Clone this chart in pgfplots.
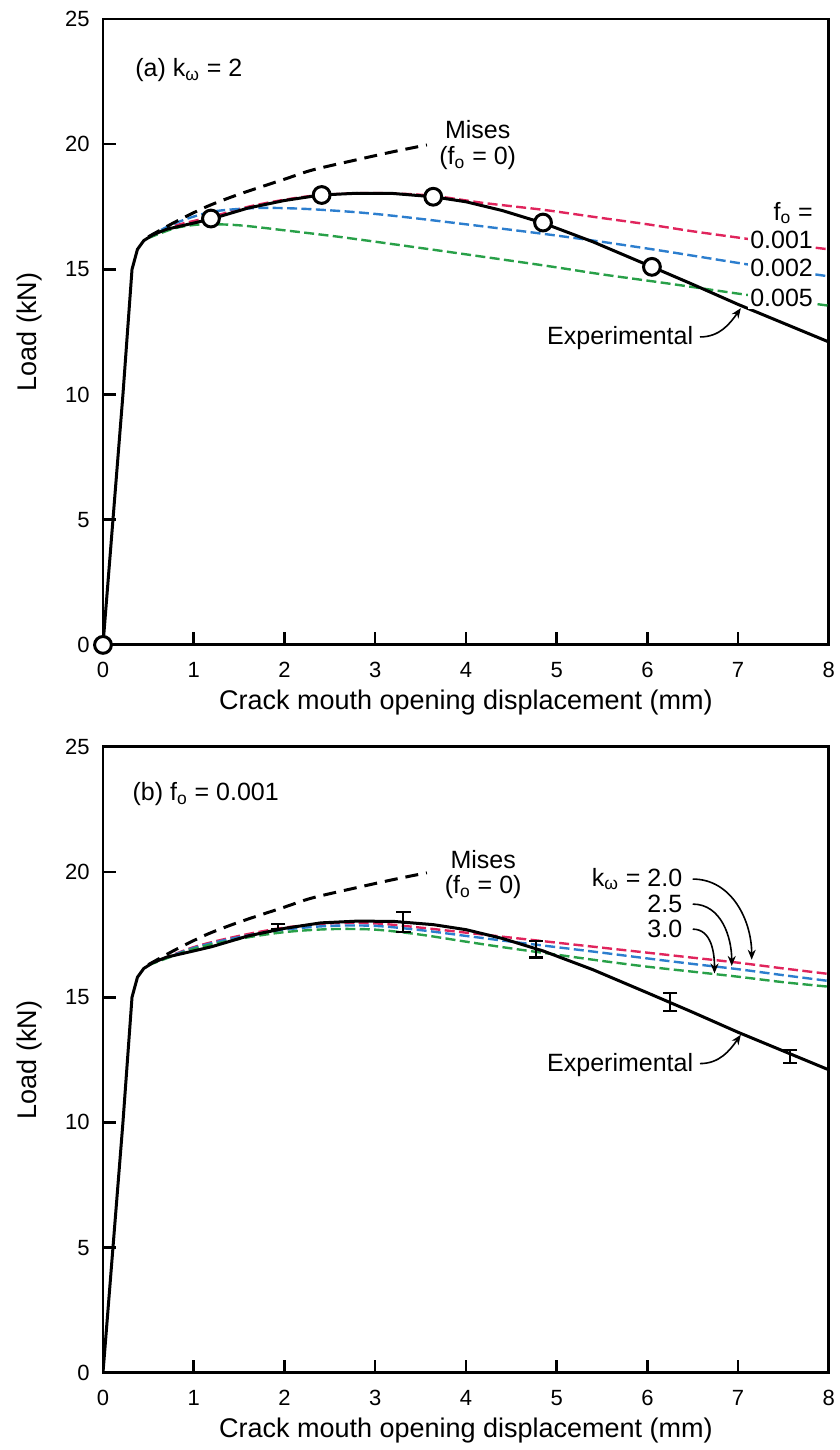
\documentclass[border=0pt]{standalone}
\usepackage{fontspec}
\setmainfont{Liberation Sans}
\usepackage{pgfplots}
\usepackage{pgfplotstable}
\pgfplotsset{compat=1.18}
\usetikzlibrary{arrows.meta}

\definecolor{cred}{RGB}{224,36,92}
\definecolor{cblue}{RGB}{44,126,206}
\definecolor{cgreen}{RGB}{40,160,72}

% experimental load - CMOD curve (same test in both panels)
\pgfplotstableread{
x y
0 0
0.11 5
0.22 10
0.32 15
0.38 15.8
0.45 16.15
0.55 16.38
0.7 16.6
1.0 16.85
1.2 17.02
1.6 17.45
2.0 17.75
2.4 17.97
2.8 18.04
3.2 18.03
3.64 17.9
4.0 17.7
4.4 17.35
4.85 16.85
5.4 16.1
6.05 15.1
6.5 14.4
7.0 13.6
7.5 12.85
8.0 12.1
}\exptab

\pgfplotstableread{
x y
0.5 16.3
0.8 16.9
1.14 17.5
1.5 18.0
2.0 18.6
2.31 18.97
2.8 19.38
3.2 19.7
3.57 19.97
}\misestab

% panel (a), k_w = 2
\pgfplotstableread{
x y
0.5 16.3
0.8 16.75
1.2 17.1
1.6 17.5
2.0 17.78
2.4 17.97
3.0 18.05
3.6 17.95
4.2 17.65
4.87 17.37
5.5 17.05
6.0 16.8
6.5 16.52
7.1 16.22
7.5 16.02
8.0 15.8
}\aone
\pgfplotstableread{
x y
0.5 16.3
0.8 16.85
1.2 17.3
1.7 17.45
2.2 17.42
2.8 17.28
3.3 17.1
4.0 16.8
4.85 16.42
5.5 16.1
6.2 15.72
7.1 15.2
8.0 14.72
}\atwo
\pgfplotstableread{
x y
0.5 16.25
0.8 16.65
1.1 16.8
1.5 16.76
2.0 16.56
2.6 16.3
3.27 15.97
4.0 15.6
4.87 15.15
5.5 14.8
6.2 14.45
7.1 13.98
8.0 13.55
}\afive

% panel (b), f_o = 0.001
\pgfplotstableread{
x y
0.5 16.3
1.0 17.0
1.5 17.45
2.0 17.78
2.5 17.95
3.0 17.95
3.5 17.78
4.0 17.58
4.5 17.38
5.0 17.18
5.5 16.98
6.0 16.78
6.5 16.58
7.0 16.38
7.5 16.15
8.0 15.93
}\btwo
\pgfplotstableread{
x y
0.5 16.3
1.0 16.97
1.5 17.4
2.0 17.7
2.5 17.85
3.0 17.85
3.5 17.68
4.0 17.45
4.5 17.22
5.0 17.0
5.5 16.78
6.0 16.55
6.5 16.33
7.0 16.12
7.5 15.88
8.0 15.65
}\btwofive
\pgfplotstableread{
x y
0.5 16.28
1.0 16.93
1.5 17.33
2.0 17.6
2.5 17.72
3.0 17.7
3.5 17.5
4.0 17.22
4.5 16.95
5.0 16.7
5.5 16.45
6.0 16.22
6.5 16.02
7.0 15.82
7.5 15.6
8.0 15.42
}\bthree

% error bars on the experimental curve, panel (b)
\pgfplotstableread{
x y e
1.93 17.84 0.1
3.31 18.0 0.4
4.77 16.92 0.33
6.25 14.8 0.36
7.57 12.64 0.26
}\errtab

\pgfplotsset{
  panel/.style={
    scale only axis, width=363pt, height=313pt,
    xmin=0, xmax=8, ymin=0, ymax=25,
    xtick={0,...,8}, ytick={0,5,...,25},
    tick align=inside, tick pos=left,
    major tick length=6.5pt,
    every tick/.style={black, line width=1.3pt},
    axis line style={line width=1.4pt},
    /pgf/number format/assume math mode=true,
    ticklabel style={font=\fontsize{11}{13}\selectfont, inner sep=0pt},
    yticklabel style={xshift=-6.5pt},
    xticklabel style={yshift=-8.5pt},
    xlabel={Crack mouth opening displacement (mm)},
    ylabel={Load (kN)},
    every axis x label/.style={at={(axis description cs:0.5,0)}, anchor=center, yshift=-29pt, font=\fontsize{13.5}{16}\selectfont},
    every axis y label/.style={at={(axis description cs:0,0.5)}, anchor=center, xshift=-36.5pt, rotate=90, font=\fontsize{13.5}{16}\selectfont},
  },
  model/.style={line width=1.2pt, dash pattern=on 5pt off 2.2pt, smooth},
  mises/.style={black, line width=1.5pt, dash pattern=on 6.5pt off 4pt, smooth},
  expt/.style={black, line width=1.5pt},
  cap/.style={black, only marks, mark=-, mark size=3.6pt, mark options={line width=1.1pt}},
}
\tikzset{ann/.style={font=\fontsize{12.5}{15}\selectfont, inner sep=1pt},
  callout/.style={-{Stealth[length=5pt,width=4pt]}, line width=0.8pt}}

\begin{document}
\begin{tikzpicture}
\begin{axis}[panel, at={(0,0)}, anchor=south west]
  \addplot[model, cred] table {\aone};
  \addplot[model, cblue] table {\atwo};
  \addplot[model, cgreen] table {\afive};
  \addplot[mises] table {\misestab};
  \addplot[expt] table {\exptab};
  \addplot[only marks, mark=*, mark size=4.2pt, mark options={fill=white, draw=black, line width=1.5pt}]
    coordinates {(0,0) (1.19,17.03) (2.41,17.97) (3.64,17.9) (4.85,16.87) (6.05,15.1)};
  \node[ann, anchor=west] at (axis cs:0.33,22.96) {(a) k\textsubscript{ω} = 2};
  \node[ann] at (axis cs:4.13,20.57) {Mises};
  \node[ann] at (axis cs:4.13,19.45) {(f\textsubscript{o} = 0)};
  \node[ann, anchor=east] at (axis cs:7.85,17.25) {f\textsubscript{o} =};
  \node[ann, anchor=east, fill=white] at (axis cs:7.85,16.17) {0.001};
  \node[ann, anchor=east, fill=white] at (axis cs:7.85,15.06) {0.002};
  \node[ann, anchor=east, fill=white] at (axis cs:7.85,13.86) {0.005};
  \node[ann] at (axis cs:5.7,12.26) {Experimental};
  \draw[callout] (axis cs:6.58,12.3) to[out=0, in=235] (axis cs:7.03,13.45);
\end{axis}

\begin{axis}[panel, at={(0,-364pt)}, anchor=south west]
  \addplot[model, cred] table {\btwo};
  \addplot[model, cblue] table {\btwofive};
  \addplot[model, cgreen] table {\bthree};
  \addplot[mises] table {\misestab};
  \addplot[expt] table {\exptab};
  \addplot[draw=none, mark=none,
    error bars/.cd, y dir=both, y explicit, error mark=none,
    error bar style={draw=black, line width=1.1pt}]
    table[x=x, y=y, y error=e] {\errtab};
  \addplot[cap] table[x=x, y expr=\thisrow{y}+\thisrow{e}] {\errtab};
  \addplot[cap] table[x=x, y expr=\thisrow{y}-\thisrow{e}] {\errtab};
  \node[ann, anchor=west] at (axis cs:0.3,23.1) {(b) f\textsubscript{o} = 0.001};
  \node[ann] at (axis cs:4.19,20.5) {Mises};
  \node[ann] at (axis cs:4.19,19.4) {(f\textsubscript{o} = 0)};
  \node[ann, anchor=east] at (axis cs:6.41,19.72) {k\textsubscript{ω} = 2.0};
  \node[ann, anchor=east] at (axis cs:6.41,18.72) {2.5};
  \node[ann, anchor=east] at (axis cs:6.41,17.72) {3.0};
  \draw[callout] (axis cs:6.5,19.72) to[out=0, in=90] (axis cs:7.15,16.5);
  \draw[callout] (axis cs:6.5,18.72) to[out=0, in=90] (axis cs:6.93,16.25);
  \draw[callout] (axis cs:6.5,17.72) to[out=0, in=90] (axis cs:6.74,15.95);
  \node[ann] at (axis cs:5.7,12.3) {Experimental};
  \draw[callout] (axis cs:6.58,12.35) to[out=0, in=235] (axis cs:7.03,13.5);
\end{axis}
\path (-51.5pt,-402.5pt) rectangle (368.5pt,322.5pt);
\end{tikzpicture}
\end{document}
